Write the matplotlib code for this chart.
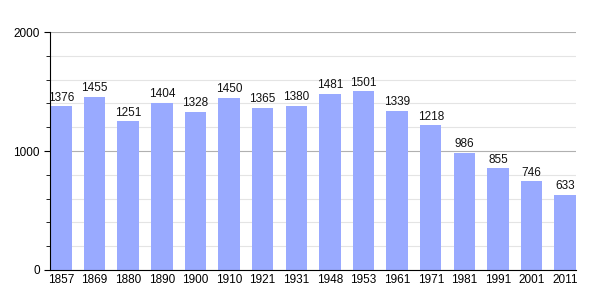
import numpy as np
import matplotlib.pyplot as plt
from matplotlib.ticker import MultipleLocator

plt.rcParams['font.family'] = ['Liberation Sans', 'DejaVu Sans']

years = ["1857", "1869", "1880", "1890", "1900", "1910", "1921", "1931",
         "1948", "1953", "1961", "1971", "1981", "1991", "2001", "2011"]
population = [1376, 1455, 1251, 1404, 1328, 1450, 1365, 1380,
              1481, 1501, 1339, 1218, 986, 855, 746, 633]

fig = plt.figure(figsize=(6.05, 3.0), dpi=100)
ax = fig.add_axes([0.083, 0.1, 0.869, 0.793])

x = np.arange(len(years))
w = 0.64
ax.bar(x, population, width=w, color="#99aaff", zorder=2)

# value labels above bars
for xi, v in zip(x, population):
    ax.text(xi, v + 22, str(v), ha="center", va="bottom", fontsize=8.5, color="#111111")

ax.set_xlim(-w / 2, len(years) - 1 + w / 2)
ax.set_ylim(0, 2000)
ax.set_xticks(x)
ax.set_xticklabels(years, fontsize=8.5)
ax.yaxis.set_major_locator(MultipleLocator(1000))
ax.yaxis.set_minor_locator(MultipleLocator(200))
ax.tick_params(axis="y", which="major", labelsize=8.5, length=4, direction="out")
ax.tick_params(axis="y", which="minor", length=3, direction="out")
ax.tick_params(axis="x", length=0, pad=3)

ax.grid(axis="y", which="minor", color="#e4e4e4", linewidth=0.8, zorder=0)
ax.grid(axis="y", which="major", color="#b0b0b0", linewidth=0.8, zorder=0)

for s in ["top", "right"]:
    ax.spines[s].set_visible(False)

fig.savefig("out.png", dpi=100)
